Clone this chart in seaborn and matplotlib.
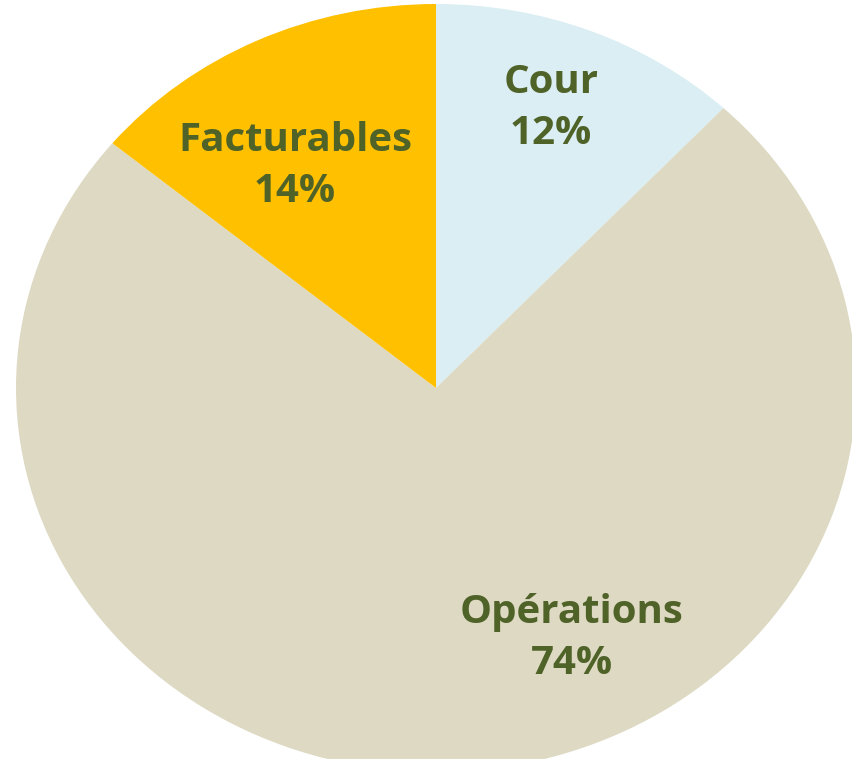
import matplotlib
matplotlib.use("Agg")
import matplotlib.pyplot as plt
import seaborn as sns

sns.set_theme(style="white")
plt.rcParams['font.family'] = ['Open Sans', 'DejaVu Sans']

# data (clockwise from 12 o'clock)
labels = ["Cour", "Opérations", "Facturables"]
shares = [12, 74, 14]
colors = sns.color_palette(["#DAEEF3", "#DDD9C3", "#FFC000"])

# label centres in figure pixels (x, y from top)
label_pos = [(551, 108), (572, 638), (295, 166)]

W, H = 853, 759
cx, cy, rx, ry = 436, 388, 420, 384

fig = plt.figure(figsize=(W / 100, H / 100), dpi=100)
ax = fig.add_axes([0, 0, 1, 1])
ax.pie(shares, colors=colors, startangle=90, counterclock=False,
       wedgeprops=dict(linewidth=0))
ax.set_aspect("auto")
ax.set_xlim(-cx / rx, (W - cx) / rx)
ax.set_ylim(-(H - cy) / ry, cy / ry)
ax.axis("off")

for lab, val, (px, py) in zip(labels, shares, label_pos):
    ax.text(px / W, 1 - py / H, f"{lab}\n{val}%", transform=ax.transAxes,
            ha="center", va="center", fontsize=29, fontweight="bold",
            color="#4F6228", linespacing=1.38)

fig.savefig("out.png", dpi=100)
